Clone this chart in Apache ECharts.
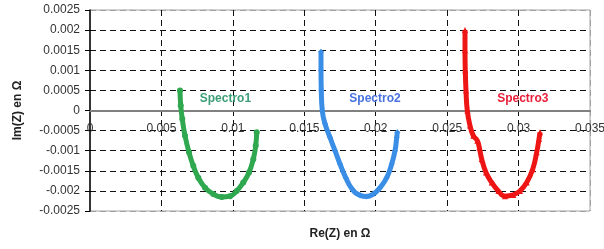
<!DOCTYPE html>
<html>
<head>
<meta charset="utf-8">
<script src="https://cdn.jsdelivr.net/npm/echarts@6/dist/echarts.min.js"></script>
<style>
  html, body { margin: 0; padding: 0; background: #fff; }
  #main { width: 604px; height: 249px; }
</style>
</head>
<body>
<div id="main"></div>
<script>
// Re(Z), Im(Z)
var spectro1 = [
  [0.0063, 0.0005], [0.00635, 0.000125], [0.00646, -0.00021], [0.00665, -0.000625],
  [0.00693, -0.00104], [0.00723, -0.001375], [0.00758, -0.00167], [0.00805, -0.00192],
  [0.00863, -0.00208], [0.00922, -0.00215], [0.0098, -0.00213], [0.01027, -0.002],
  [0.01073, -0.00179], [0.01113, -0.00154], [0.01143, -0.00121], [0.0116, -0.000875],
  [0.01167, -0.00054]
];
var spectro2 = [
  [0.01617, 0.00146], [0.01617, 0.001], [0.01619, 0.0005], [0.01626, 0],
  [0.01645, -0.00033], [0.0168, -0.00067], [0.01715, -0.001], [0.0175, -0.00133],
  [0.0179, -0.00167], [0.01836, -0.00196], [0.0189, -0.00211], [0.01937, -0.00214],
  [0.01983, -0.00208], [0.0203, -0.00192], [0.02077, -0.00167], [0.02112, -0.00133],
  [0.02135, -0.001], [0.02147, -0.00067], [0.02151, -0.00054]
];
var spectro3 = [
  [0.02625, 0.002], [0.02625, 0.0015], [0.02627, 0.001], [0.02632, 0.0005],
  [0.02641, 0], [0.0266, -0.000375], [0.02683, -0.000625], [0.02711, -0.00075],
  [0.02725, -0.00092], [0.02742, -0.00121], [0.02772, -0.00154], [0.02812, -0.00179],
  [0.02858, -0.002], [0.02905, -0.00213], [0.02963, -0.0021], [0.0301, -0.002],
  [0.03057, -0.00179], [0.03099, -0.00146], [0.03127, -0.00104], [0.03143, -0.00071],
  [0.0315, -0.00054]
];
var seriesNames = ['Spectro1', 'Spectro2', 'Spectro3'];
var labelPos = [[0.00948, 0.0003], [0.01995, 0.0003], [0.0303, 0.0003]];
var xTicks = ['0', '0.005', '0.01', '0.015', '0.02', '0.025', '0.03', '0.035'];
var yTicks = ['-0.0025', '-0.002', '-0.0015', '-0.001', '-0.0005', '0',
              '0.0005', '0.001', '0.0015', '0.002', '0.0025'];

var lineColors = ['#2fa84f', '#3a8ee6', '#ee1515'];
var textColors = ['#3c9f78', '#4a72e0', '#e8203a'];
var symbols = ['circle', 'diamond', 'triangle'];
var allData = [spectro1, spectro2, spectro3];

var chart = echarts.init(document.getElementById('main'));
var font = 'Liberation Sans, Arial, sans-serif';

var xGridColors = xTicks.map(function (t, i) {
  return i === 0 ? 'rgba(0,0,0,0)' : (i === xTicks.length - 1 ? '#a0a0a0' : '#111');
});
var yGridColors = yTicks.map(function (t, i) {
  if (i === 0 || i === yTicks.length - 1) return '#a0a0a0';
  if (t === '0') return 'rgba(0,0,0,0)';
  return '#111';
});

var series = allData.map(function (d, i) {
  return {
    name: seriesNames[i],
    type: 'line',
    data: d,
    symbol: symbols[i],
    symbolSize: 6,
    smooth: true,
    lineStyle: { color: lineColors[i], width: 5 },
    itemStyle: { color: lineColors[i] },
    z: 5,
    markPoint: {
      symbol: 'circle',
      symbolSize: 0,
      data: [{ coord: labelPos[i] }],
      label: {
        show: true,
        position: 'inside',
        formatter: seriesNames[i],
        color: textColors[i],
        fontFamily: font,
        fontWeight: 'bold',
        fontSize: 12
      }
    }
  };
});

chart.setOption({
  animation: false,
  backgroundColor: '#fff',
  grid: {
    left: 90, right: 14, top: 10, bottom: 38,
    containLabel: false,
    outerBoundsMode: 'none',
    show: true, borderColor: '#a0a0a0', borderWidth: 1
  },
  xAxis: {
    type: 'value',
    min: 0, max: 0.035, interval: 0.005,
    offset: -100.5,
    name: 'Re(Z) en Ω',
    nameLocation: 'middle',
    nameGap: 117,
    nameTextStyle: { fontFamily: font, fontWeight: 'bold', fontSize: 12, color: '#222' },
    axisLine: { onZero: false, lineStyle: { color: '#808080', width: 2 } },
    axisTick: { show: false },
    axisLabel: {
      margin: 12,
      fontFamily: font, fontSize: 12, color: '#333',
      formatter: function (v) { return xTicks[Math.round(v / 0.005)]; }
    },
    splitLine: { show: true, lineStyle: { color: xGridColors, type: [6, 4], width: 1 } }
  },
  yAxis: {
    type: 'value',
    min: -0.0025, max: 0.0025, interval: 0.0005,
    name: 'Im(Z) en Ω',
    nameLocation: 'middle',
    nameRotate: 90,
    nameGap: 66,
    nameTextStyle: { fontFamily: font, fontWeight: 'bold', fontSize: 12, color: '#222' },
    axisLine: { show: true, onZero: false, lineStyle: { color: '#000', width: 1.5 } },
    axisTick: { show: true, inside: false, length: 5, lineStyle: { color: '#000' } },
    axisLabel: {
      margin: 10,
      showMinLabel: true, showMaxLabel: true,
      fontFamily: font, fontSize: 12, color: '#333',
      formatter: function (v) { return yTicks[Math.round((v + 0.0025) / 0.0005)]; }
    },
    splitLine: { show: true, lineStyle: { color: yGridColors, type: [6, 4], width: 1 } }
  },
  series: series
});
</script>
</body>
</html>
